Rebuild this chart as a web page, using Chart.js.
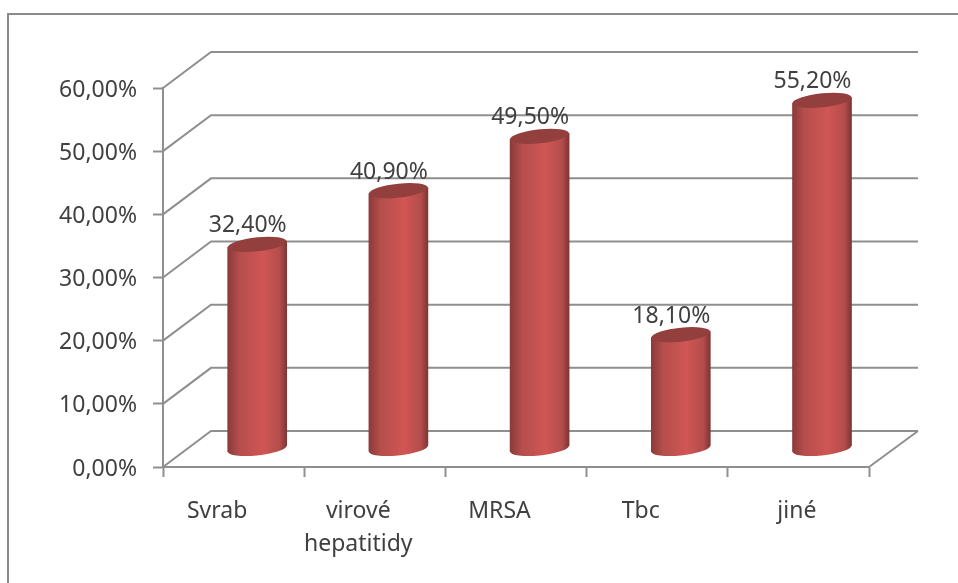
<!DOCTYPE html>
<html>
<head>
<meta charset="utf-8">
<style>
  html, body { margin: 0; padding: 0; background: #fff; overflow: hidden; }
  #wrap { position: relative; width: 958px; height: 583px; overflow: hidden; }
  #frame { position: absolute; left: 7px; top: 13px; width: 1000px; height: 640px; border: 2px solid #8a8a8a; }
  canvas { position: absolute; left: 0; top: 0; }
</style>
</head>
<body>
<div id="wrap">
  <div id="frame"></div>
  <canvas id="myChart" width="958" height="583"></canvas>
</div>
<script src="https://cdn.jsdelivr.net/npm/chart.js@4"></script>
<script>
var categories = ['Svrab', ['virové', 'hepatitidy'], 'MRSA', 'Tbc', 'jiné'];
var values = [32.4, 40.9, 49.5, 18.1, 55.2];
var yTicks = [0, 10, 20, 30, 40, 50, 60];

var gridColor = '#8f8f8f';
var textColor = '#404040';
var fontFamily = '"Noto Sans", sans-serif';
var fontSize = 23;

// depth of the fake 3d box
var depthX = 48;
var depthY = -36;
// bars stand in the middle of the floor
var barShiftX = 23.6;
var barShiftY = -18;
var barWidth = 59;
// cylinder ends lean up to the right a little
var barTilt = -0.1;
var capHeight = 7;

function percent(v) {
  return v.toFixed(2).replace('.', ',') + '%';
}

function barGradient(context) {
  var chart = context.chart;
  if (!chart.chartArea) {
    return '#c0504d';
  }
  var cx = chart.scales.x.getPixelForValue(context.dataIndex);
  var g = chart.ctx.createLinearGradient(cx - barWidth / 2, 0, cx + barWidth / 2, 0);
  g.addColorStop(0, '#8a3b39');
  g.addColorStop(0.2, '#b54e4c');
  g.addColorStop(0.6, '#d05654');
  g.addColorStop(0.88, '#b34d4b');
  g.addColorStop(1, '#803533');
  return g;
}

// walls of the box, bars shifted into it, cylinder caps, value labels
var box3d = {
  id: 'box3d',
  afterLayout: function (chart) {
    // last category label sits further right in the original
    var items = chart.scales.x.getLabelItems();
    items[items.length - 1].options.translation[0] += 15;
  },
  beforeDatasetsDraw: function (chart) {
    var ctx = chart.ctx;
    var x = chart.scales.x;
    var y = chart.scales.y;
    ctx.save();
    ctx.strokeStyle = gridColor;
    ctx.lineWidth = 2;
    yTicks.forEach(function (t) {
      var py = y.getPixelForValue(t);
      ctx.beginPath();
      ctx.moveTo(x.left, py);
      ctx.lineTo(x.left + depthX, py + depthY);
      ctx.lineTo(x.right + depthX + 1, py + depthY);
      ctx.stroke();
    });
    var floor = y.getPixelForValue(0);
    ctx.beginPath();
    ctx.moveTo(x.right, floor);
    ctx.lineTo(x.right + depthX + 1, floor + depthY);
    ctx.stroke();
    ctx.restore();
  },
  beforeDatasetDraw: function (chart, args) {
    var ctx = chart.ctx;
    args.meta.data.forEach(function (bar) {
      ctx.save();
      ctx.translate(barShiftX, barShiftY);
      // shear each bar around its own middle so the caps fit the sides
      ctx.translate(bar.x, 0);
      ctx.transform(1, barTilt, 0, 1, 0, 0);
      ctx.translate(-bar.x, 0);
      bar.draw(ctx);
      ctx.fillStyle = bar.options.backgroundColor;
      ctx.beginPath();
      ctx.ellipse(bar.x, bar.base, barWidth / 2, capHeight, 0, 0, Math.PI * 2);
      ctx.fill();
      ctx.fillStyle = '#933f3d';
      ctx.beginPath();
      ctx.ellipse(bar.x, bar.y, barWidth / 2, capHeight, 0, 0, Math.PI * 2);
      ctx.fill();
      ctx.restore();
    });
    return false;
  },
  afterDatasetsDraw: function (chart) {
    var ctx = chart.ctx;
    ctx.save();
    ctx.fillStyle = textColor;
    ctx.font = fontSize + 'px ' + fontFamily;
    ctx.textAlign = 'center';
    ctx.textBaseline = 'middle';
    chart.getDatasetMeta(0).data.forEach(function (bar, i) {
      ctx.fillText(percent(values[i]), bar.x + barShiftX - 9.5, bar.y + barShiftY - 18.5);
    });
    ctx.restore();
  }
};

var ctx = document.getElementById('myChart').getContext('2d');
var chart = new Chart(ctx, {
  type: 'bar',
  data: {
    labels: categories,
    datasets: [{
      data: values,
      backgroundColor: barGradient,
      borderWidth: 0,
      barThickness: barWidth,
      clip: false
    }]
  },
  options: {
    responsive: false,
    animation: false,
    layout: { padding: { top: 88, right: 89, left: 0, bottom: 0 } },
    plugins: {
      legend: { display: false },
      tooltip: { enabled: false }
    },
    scales: {
      x: {
        afterFit: function (s) { s.height = 116; },
        grid: { drawOnChartArea: false, tickLength: 10, tickColor: gridColor, tickWidth: 2 },
        border: { color: gridColor, width: 2 },
        ticks: {
          color: textColor,
          padding: 18,
          labelOffset: -16.5,
          maxRotation: 0,
          font: { family: fontFamily, size: fontSize, lineHeight: 1.43 }
        }
      },
      y: {
        min: 0,
        max: 60,
        afterFit: function (s) { s.width = 163; },
        grid: { drawOnChartArea: false, tickLength: 10, tickColor: gridColor, tickWidth: 2 },
        border: { color: gridColor, width: 2 },
        ticks: {
          stepSize: 10,
          color: textColor,
          padding: 16,
          labelOffset: 2,
          callback: function (v) { return percent(v); },
          font: { family: fontFamily, size: fontSize }
        }
      }
    }
  },
  plugins: [box3d]
});
</script>
</body>
</html>
